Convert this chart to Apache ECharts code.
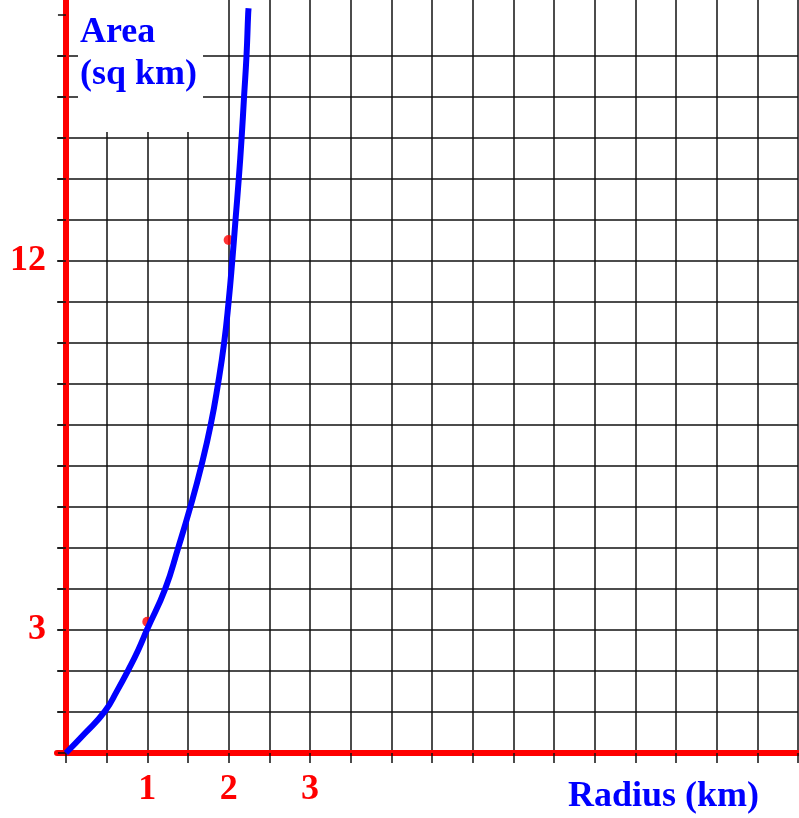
<!DOCTYPE html>
<html>
<head>
<meta charset="UTF-8">
<title>Area vs Radius</title>
<script src="https://cdn.jsdelivr.net/npm/echarts@6/dist/echarts.min.js"></script>
<style>
  html, body { margin: 0; padding: 0; background: #fff; }
  #chart { width: 799px; height: 818px; }
</style>
</head>
<body>
<div id="chart"></div>
<script>
// curve (radius km, area sq km)
var radius = [0, 0.234, 0.48, 0.63, 0.766, 0.889, 1.0, 1.22, 1.38, 1.53, 1.665, 1.78, 1.87, 1.945, 2.0, 2.045, 2.085, 2.125, 2.16, 2.19, 2.22, 2.24, 2.245];
var area   = [0, 0.48, 1.02, 1.52, 2.02, 2.51, 3.02, 4, 5, 6, 7, 8, 9, 10, 11, 12, 13, 14, 15, 16, 17, 18, 18.15];

// red marker dots
var dotRadius = [1.0, 2.0];
var dotArea = [3.2, 12.5];

// grid lines and labels
var xTicks = [0, 0.5, 1, 1.5, 2, 2.5, 3, 3.5, 4, 4.5, 5, 5.5, 6, 6.5, 7, 7.5, 8, 8.5, 9];
var yTicks = [0, 1, 2, 3, 4, 5, 6, 7, 8, 9, 10, 11, 12, 13, 14, 15, 16, 17, 18];
var xLabels = [1, 2, 3];
var yLabels = [3, 12];

var RED = '#ff0000';
var BLUE = '#0000ff';
var SERIF = '"Liberation Serif", "Times New Roman", serif';

var chart = echarts.init(document.getElementById('chart'));

var curve = [];
for (var i = 0; i < radius.length; i++) {
  curve.push([radius[i], area[i]]);
}
var dots = [];
for (var j = 0; j < dotRadius.length; j++) {
  dots.push([dotRadius[j], dotArea[j]]);
}

var gridLine = { color: '#111', width: 1.5 };

chart.setOption({
  animation: false,
  backgroundColor: '#fff',
  title: {
    text: 'Area\n(sq km)',
    left: 78,
    top: 0,
    backgroundColor: '#fff',
    padding: [12, 6, 36, 2],
    textStyle: {
      fontFamily: SERIF,
      fontWeight: 'bold',
      fontSize: 36,
      lineHeight: 42,
      color: BLUE
    }
  },
  grid: {
    left: 57,
    right: 1,
    top: 0,
    bottom: 65,
    containLabel: false,
    outerBoundsMode: 'none'
  },
  xAxis: {
    type: 'value',
    min: -0.11,
    max: 9,
    axisLine: { lineStyle: { color: RED, width: 6 } },
    axisTick: {
      show: true,
      customValues: xTicks,
      length: 10,
      lineStyle: gridLine
    },
    splitLine: { show: true, lineStyle: gridLine },
    axisLabel: {
      customValues: xLabels,
      color: RED,
      fontFamily: SERIF,
      fontWeight: 'bold',
      fontSize: 36,
      margin: 19
    }
  },
  yAxis: {
    type: 'value',
    min: 0,
    max: 18.35,
    axisLine: { show: true, onZero: true, lineStyle: { color: RED, width: 6, cap: 'round' } },
    axisTick: {
      show: true,
      customValues: yTicks,
      length: 8,
      lineStyle: gridLine
    },
    splitLine: { show: true, showMaxLine: false, lineStyle: gridLine },
    axisLabel: {
      customValues: yLabels,
      color: RED,
      fontFamily: SERIF,
      fontWeight: 'bold',
      fontSize: 36,
      margin: 11
    }
  },
  graphic: [{
    type: 'text',
    left: 568,
    top: 779,
    style: {
      text: 'Radius (km)',
      font: 'bold 36px ' + SERIF,
      fill: BLUE
    }
  }],
  series: [
    {
      type: 'scatter',
      data: dots,
      symbolSize: 10,
      itemStyle: { color: RED },
      z: 2
    },
    {
      type: 'line',
      data: curve,
      showSymbol: false,
      smooth: true,
      lineStyle: { color: BLUE, width: 6 },
      z: 3
    }
  ]
});
</script>
</body>
</html>
